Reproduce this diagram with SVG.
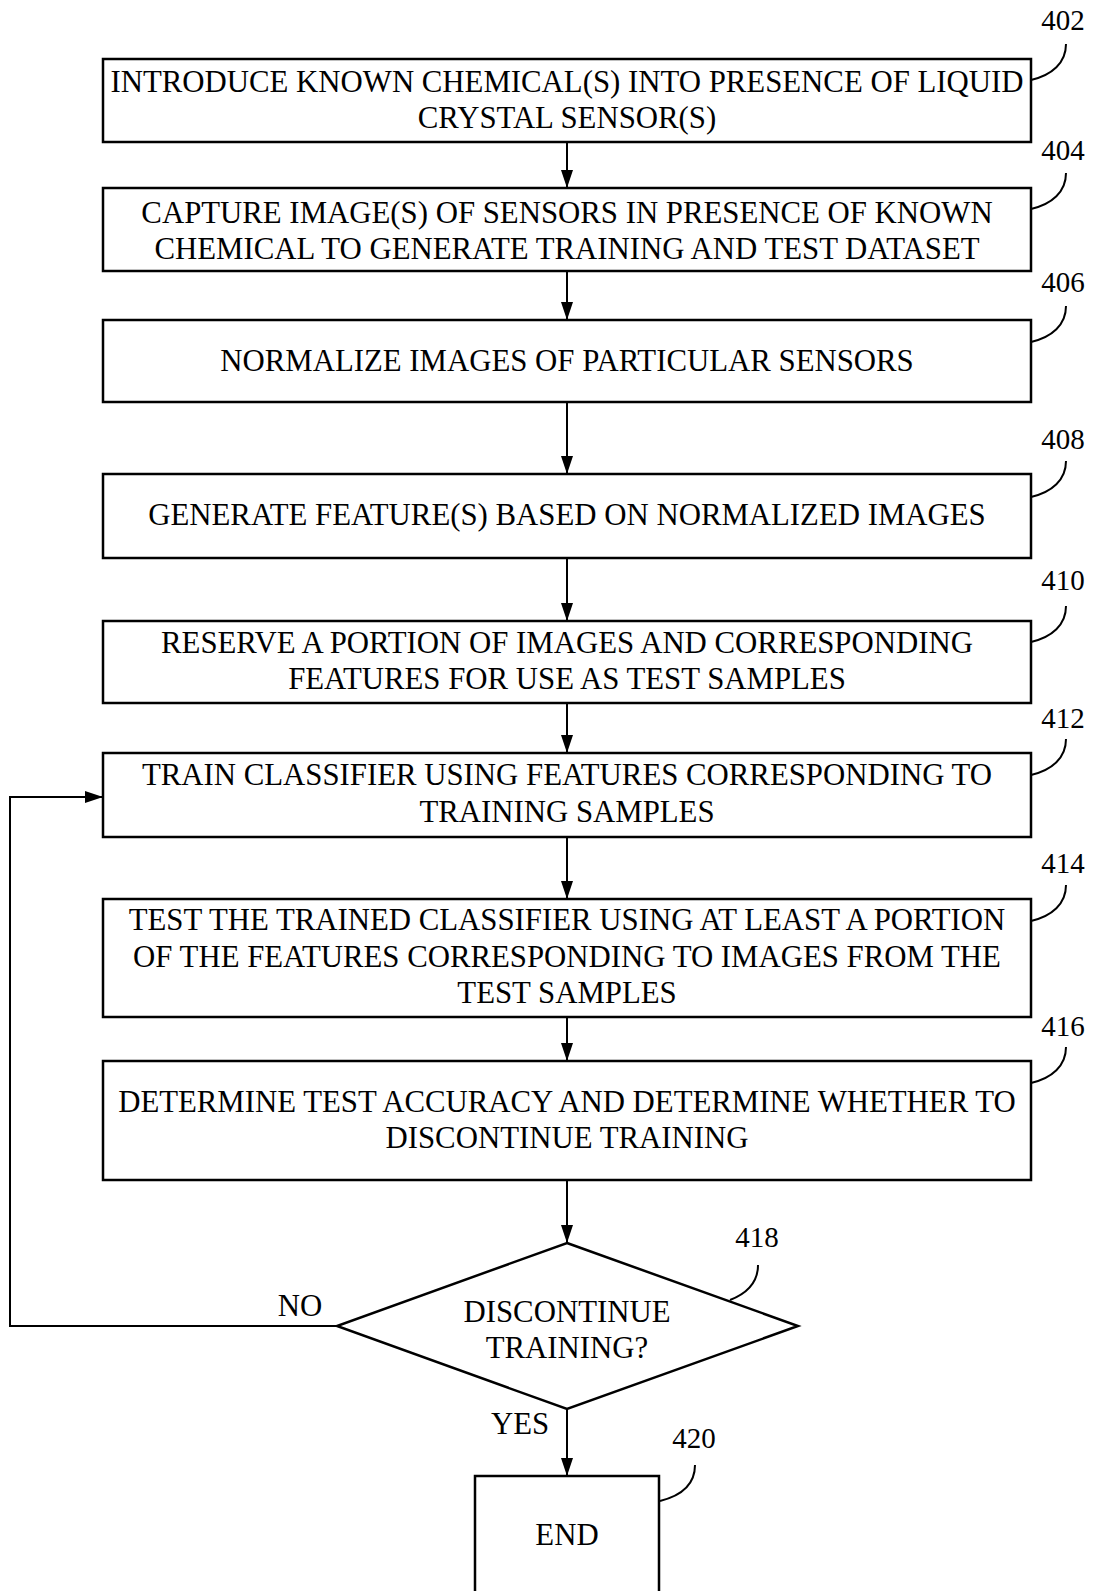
<svg xmlns="http://www.w3.org/2000/svg" width="1093" height="1591" viewBox="0 0 1093 1591">
<defs>
<marker id="ah" markerWidth="18" markerHeight="12" refX="18" refY="6" orient="auto" markerUnits="userSpaceOnUse" viewBox="0 0 18 12">
<path d="M0,0 L18,6 L0,12 Z" fill="#000"/>
</marker>
<style>
.box{fill:#fff;stroke:#000;stroke-width:2.5}
.t{font-family:"Liberation Serif","Times New Roman",serif;font-size:30.8px;fill:#000;text-anchor:middle}
.lb{font-family:"Liberation Serif","Times New Roman",serif;font-size:29px;fill:#000;text-anchor:middle}
.ld{fill:none;stroke:#000;stroke-width:2}
.c{fill:none;stroke:#000;stroke-width:2}
</style>
</defs>
<rect width="1093" height="1591" fill="#fff"/>
<g id="connectors">
<line class="c" x1="567" y1="142" x2="567" y2="188" marker-end="url(#ah)"/>
<line class="c" x1="567" y1="271" x2="567" y2="320" marker-end="url(#ah)"/>
<line class="c" x1="567" y1="402" x2="567" y2="474" marker-end="url(#ah)"/>
<line class="c" x1="567" y1="558" x2="567" y2="621" marker-end="url(#ah)"/>
<line class="c" x1="567" y1="703" x2="567" y2="753" marker-end="url(#ah)"/>
<line class="c" x1="567" y1="837" x2="567" y2="899" marker-end="url(#ah)"/>
<line class="c" x1="567" y1="1017" x2="567" y2="1061" marker-end="url(#ah)"/>
<line class="c" x1="567" y1="1180" x2="567" y2="1243" marker-end="url(#ah)"/>
<line class="c" x1="567" y1="1409" x2="567" y2="1476" marker-end="url(#ah)"/>
<polyline class="c" points="337,1326 10,1326 10,797 103,797" marker-end="url(#ah)"/>
<text class="t" x="300" y="1316">NO</text>
<text class="t" x="520" y="1434">YES</text>
</g>
<g id="n402">
<rect class="box" x="103" y="59" width="928" height="83"/>
<text class="t" x="567" y="92">INTRODUCE KNOWN CHEMICAL(S) INTO PRESENCE OF LIQUID</text>
<text class="t" x="567" y="128">CRYSTAL SENSOR(S)</text>
<path class="ld" d="M1031,80 C1052,75 1066,63 1066,44"/>
<text class="lb" x="1063" y="30">402</text>
</g>
<g id="n404">
<rect class="box" x="103" y="188" width="928" height="83"/>
<text class="t" x="567" y="223">CAPTURE IMAGE(S) OF SENSORS IN PRESENCE OF KNOWN</text>
<text class="t" x="567" y="259">CHEMICAL TO GENERATE TRAINING AND TEST DATASET</text>
<path class="ld" d="M1031,209 C1052,204 1066,192 1066,173"/>
<text class="lb" x="1063" y="160">404</text>
</g>
<g id="n406">
<rect class="box" x="103" y="320" width="928" height="82"/>
<text class="t" x="567" y="371">NORMALIZE IMAGES OF PARTICULAR SENSORS</text>
<path class="ld" d="M1031,342 C1052,337 1066,325 1066,306"/>
<text class="lb" x="1063" y="292">406</text>
</g>
<g id="n408">
<rect class="box" x="103" y="474" width="928" height="84"/>
<text class="t" x="567" y="525">GENERATE FEATURE(S) BASED ON NORMALIZED IMAGES</text>
<path class="ld" d="M1031,497 C1052,492 1066,480 1066,461"/>
<text class="lb" x="1063" y="449">408</text>
</g>
<g id="n410">
<rect class="box" x="103" y="621" width="928" height="82"/>
<text class="t" x="567" y="653">RESERVE A PORTION OF IMAGES AND CORRESPONDING</text>
<text class="t" x="567" y="689">FEATURES FOR USE AS TEST SAMPLES</text>
<path class="ld" d="M1031,642 C1052,637 1066,625 1066,606"/>
<text class="lb" x="1063" y="590">410</text>
</g>
<g id="n412">
<rect class="box" x="103" y="753" width="928" height="84"/>
<text class="t" x="567" y="785">TRAIN CLASSIFIER USING FEATURES CORRESPONDING TO</text>
<text class="t" x="567" y="822">TRAINING SAMPLES</text>
<path class="ld" d="M1031,775 C1052,770 1066,758 1066,739"/>
<text class="lb" x="1063" y="728">412</text>
</g>
<g id="n414">
<rect class="box" x="103" y="899" width="928" height="118"/>
<text class="t" x="567" y="930">TEST THE TRAINED CLASSIFIER USING AT LEAST A PORTION</text>
<text class="t" x="567" y="967">OF THE FEATURES CORRESPONDING TO IMAGES FROM THE</text>
<text class="t" x="567" y="1003">TEST SAMPLES</text>
<path class="ld" d="M1031,921 C1052,916 1066,904 1066,885"/>
<text class="lb" x="1063" y="873">414</text>
</g>
<g id="n416">
<rect class="box" x="103" y="1061" width="928" height="119"/>
<text class="t" x="567" y="1112">DETERMINE TEST ACCURACY AND DETERMINE WHETHER TO</text>
<text class="t" x="567" y="1148">DISCONTINUE TRAINING</text>
<path class="ld" d="M1031,1083 C1052,1078 1066,1066 1066,1047"/>
<text class="lb" x="1063" y="1036">416</text>
</g>
<g id="n418">
<polygon class="box" points="567,1243 798,1326 567,1409 337,1326"/>
<text class="t" x="567" y="1322">DISCONTINUE</text>
<text class="t" x="567" y="1358">TRAINING?</text>
<path class="ld" d="M730,1300 C748,1293 758,1282 758,1265"/>
<text class="lb" x="757" y="1247">418</text>
</g>
<g id="n420">
<path class="box" d="M475,1600 V1476 H659 V1600"/>
<text class="t" x="567" y="1545">END</text>
<path class="ld" d="M660,1501 C680,1496 695,1485 695,1465"/>
<text class="lb" x="694" y="1448">420</text>
</g>
</svg>
